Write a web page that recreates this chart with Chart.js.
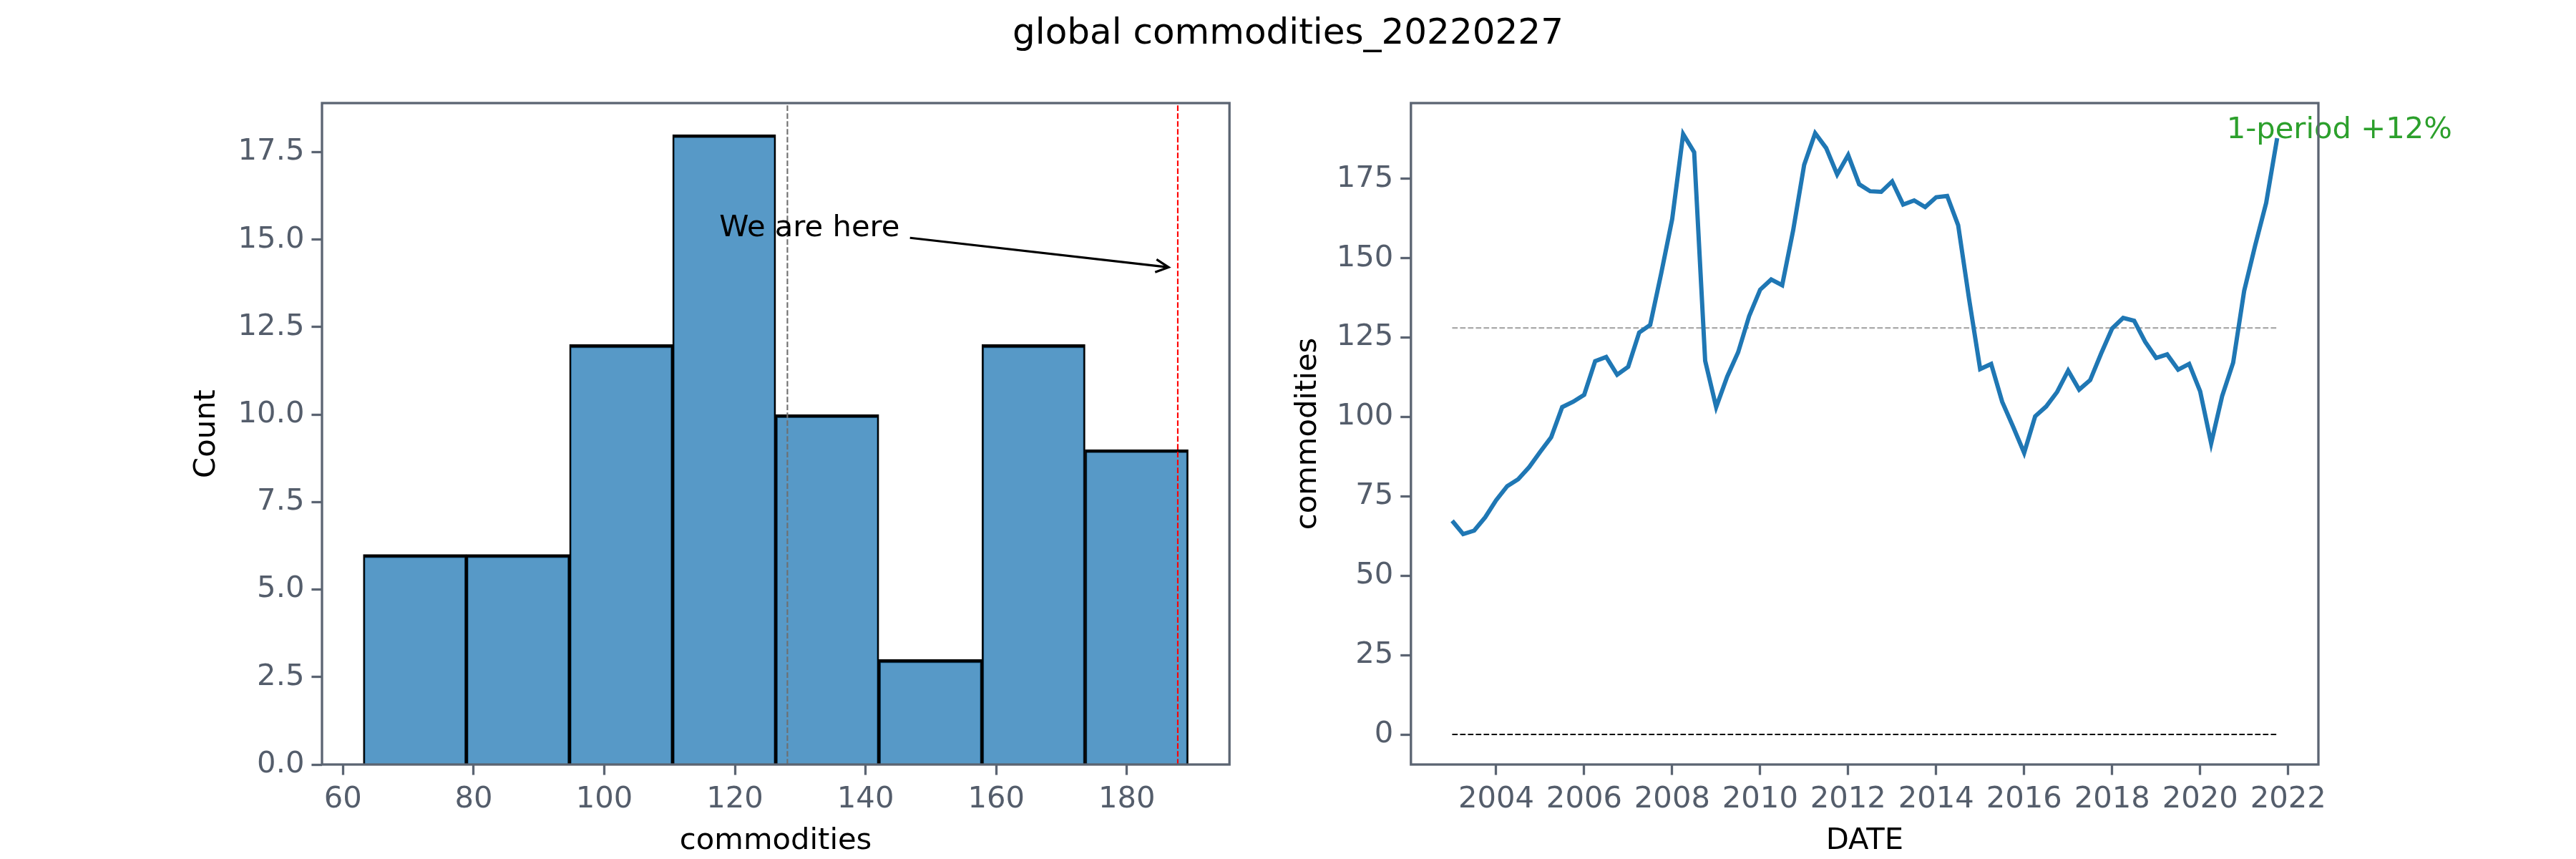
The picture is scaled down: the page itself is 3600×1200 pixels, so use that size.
<!DOCTYPE html>
<html>
<head>
<meta charset="utf-8">
<script src="https://cdn.jsdelivr.net/npm/chart.js@4.4.0/dist/chart.umd.min.js"></script>
<style>
  html, body { margin: 0; padding: 0; background: #fff; }
  #fig { position: relative; width: 3600px; height: 1200px; background: #fff; }
  #suptitle {
    position: absolute; left: 0; top: 0; width: 3600px;
    text-align: center; font-family: 'DejaVu Sans'; font-size: 50px;
    line-height: 89px; color: #000;
  }
  canvas { position: absolute; top: 0; }
  #histCanvas { left: 0; }
  #lineCanvas { left: 1800px; }
</style>
</head>
<body>
<div id="fig">
  <div id="suptitle">global commodities_20220227</div>
  <canvas id="histCanvas" width="1800" height="1200"></canvas>
  <canvas id="lineCanvas" width="1800" height="1200"></canvas>
</div>
<script>
// quarterly index, 2003Q1 .. 2021Q4
const firstYear = 2003;
const commodities = [
  67.3, 63.1, 64.2, 68.4, 73.8, 78.2, 80.4, 84.2, 89.0, 93.6,
  103.1, 104.8, 107.0, 117.6, 118.9, 113.3, 115.8, 126.6, 129.0, 145.2,
  162.3, 189.1, 183.4, 117.7, 103.1, 112.7, 120.4, 131.8, 140.1, 143.3,
  141.5, 158.8, 179.4, 189.4, 184.7, 176.4, 182.5, 173.3, 171.1, 170.9,
  174.2, 166.9, 168.2, 166.1, 169.2, 169.6, 160.4, 137.0, 115.1, 116.7,
  104.8, 96.9, 88.7, 100.2, 103.3, 107.9, 114.6, 108.6, 111.6, 120.0,
  127.9, 131.2, 130.3, 123.7, 118.6, 119.7, 114.9, 116.7, 108.1, 91.7,
  106.6, 117.1, 139.7, 154.0, 167.4, 187.8
];

// histogram counts per bin (8 equal bins between min and max)
const histCounts = [6, 6, 12, 18, 10, 3, 12, 9];

const histTicks = [60, 80, 100, 120, 140, 160, 180];
const countTicks = [0, 2.5, 5, 7.5, 10, 12.5, 15, 17.5];
const yearTicks = [2004, 2006, 2008, 2010, 2012, 2014, 2016, 2018, 2020, 2022];
const valueTicks = [0, 25, 50, 75, 100, 125, 150, 175];

// annotations (data units)
const arrowText = 'We are here';
const arrowTextAt = [117.6, 15.1];
const arrowTail = [146.8, 15.05];
const arrowHead = [186.4, 14.21];
const changeText = '1-period +12%';
const changeTextX = 2020.6;

const FONT = 'DejaVu Sans';
const FS = 41.7;
const tickGray = '#545d6b';
const spineGray = '#5b6472';
const blue = '#1f77b4';

Chart.defaults.font.family = FONT;
Chart.defaults.font.size = FS;
Chart.defaults.color = '#000';

const dates = commodities.map((v, i) => firstYear + i / 4);
const lo = Math.min(...commodities);
const hi = Math.max(...commodities);
const binWidth = (hi - lo) / histCounts.length;
const binCenters = histCounts.map((c, k) => lo + (k + 0.5) * binWidth);
const meanVal = commodities.reduce((s, v) => s + v, 0) / commodities.length;
const lastVal = commodities[commodities.length - 1];

function fixedTicks(values) {
  return function (axis) {
    axis.ticks = values.map(v => ({ value: v }));
  };
}

function axisStyle(extra) {
  return Object.assign({
    border: { display: false },
    grid: {
      display: true, drawOnChartArea: false, drawTicks: true, offset: false,
      tickLength: 14.6, tickWidth: 3.3, tickColor: spineGray
    },
    ticks: { color: tickGray, font: { size: FS }, autoSkip: false, maxRotation: 0, padding: 10 }
  }, extra);
}

const framePlugin = {
  id: 'frame',
  afterDraw(chart) {
    const { ctx, chartArea: a } = chart;
    ctx.save();
    ctx.strokeStyle = spineGray;
    ctx.lineWidth = 3.3;
    ctx.strokeRect(a.left, a.top, a.right - a.left, a.bottom - a.top);
    ctx.restore();
  }
};

const histExtras = {
  id: 'histExtras',
  afterDatasetsDraw(chart) {
    const { ctx, chartArea: a, scales: { x, y } } = chart;
    ctx.save();
    ctx.lineWidth = 2.1;
    ctx.setLineDash([7.7, 3.3]);
    [[meanVal, '#6f6f6f'], [lastVal, '#ff0000']].forEach(([v, c]) => {
      const px = x.getPixelForValue(v);
      ctx.strokeStyle = c;
      ctx.beginPath();
      ctx.moveTo(px, a.bottom);
      ctx.lineTo(px, a.top);
      ctx.stroke();
    });
    ctx.setLineDash([]);

    ctx.fillStyle = '#000';
    ctx.font = FS + 'px "' + FONT + '"';
    ctx.textBaseline = 'alphabetic';
    ctx.textAlign = 'left';
    ctx.fillText(arrowText, x.getPixelForValue(arrowTextAt[0]), y.getPixelForValue(arrowTextAt[1]));

    const x0 = x.getPixelForValue(arrowTail[0]), y0 = y.getPixelForValue(arrowTail[1]);
    const x1 = x.getPixelForValue(arrowHead[0]), y1 = y.getPixelForValue(arrowHead[1]);
    const len = Math.hypot(x1 - x0, y1 - y0);
    const dx = (x1 - x0) / len, dy = (y1 - y0) / len;
    const hl = 18, hw = 9;
    ctx.strokeStyle = '#000';
    ctx.lineWidth = 3.2;
    ctx.beginPath();
    ctx.moveTo(x0, y0);
    ctx.lineTo(x1, y1);
    ctx.moveTo(x1 - dx * hl - dy * hw, y1 - dy * hl + dx * hw);
    ctx.lineTo(x1, y1);
    ctx.lineTo(x1 - dx * hl + dy * hw, y1 - dy * hl - dx * hw);
    ctx.stroke();
    ctx.restore();
  }
};

const lineExtras = {
  id: 'lineExtras',
  afterDraw(chart) {
    const { ctx, scales: { x, y } } = chart;
    ctx.save();
    ctx.fillStyle = '#2ca02c';
    ctx.font = FS + 'px "' + FONT + '"';
    ctx.textBaseline = 'alphabetic';
    ctx.textAlign = 'left';
    ctx.fillText(changeText, x.getPixelForValue(changeTextX), y.getPixelForValue(lastVal));
    ctx.restore();
  }
};

// left: histogram
new Chart(document.getElementById('histCanvas'), {
  type: 'bar',
  data: {
    datasets: [{
      data: binCenters.map((c, k) => ({ x: c, y: histCounts[k] })),
      backgroundColor: 'rgba(31,119,180,0.75)',
      borderColor: '#000',
      borderWidth: { top: 4.5, left: 2.5, right: 2.5, bottom: 0 },
      borderSkipped: false,
      barPercentage: 1,
      categoryPercentage: 1
    }]
  },
  options: {
    responsive: false,
    animation: false,
    devicePixelRatio: 1,
    layout: { padding: { left: 0, top: 144, right: 1800 - 1718.2, bottom: 0 } },
    plugins: { legend: { display: false }, tooltip: { enabled: false }, title: { display: false } },
    scales: {
      x: axisStyle({
        type: 'linear',
        offset: false,
        min: lo - 0.05 * (hi - lo),
        max: hi + 0.05 * (hi - lo),
        afterBuildTicks: fixedTicks(histTicks),
        afterFit(s) { s.height = 132; },
        title: { display: true, text: 'commodities', color: '#000', font: { size: FS }, padding: { top: 0, bottom: 0 } }
      }),
      y: axisStyle({
        type: 'linear',
        min: 0,
        max: 18 * 1.05,
        afterBuildTicks: fixedTicks(countTicks),
        afterFit(s) { s.width = 450; },
        title: { display: true, text: 'Count', color: '#000', font: { size: FS }, padding: { top: 264, bottom: 0 } }
      })
    }
  },
  plugins: [histExtras, framePlugin]
});

// tick label formats
const histChart = Chart.getChart('histCanvas');
histChart.options.scales.y.ticks.callback = v => v.toFixed(1);
histChart.options.scales.x.ticks.callback = v => String(v);
histChart.update();

// right: time series
new Chart(document.getElementById('lineCanvas'), {
  type: 'line',
  data: {
    datasets: [
      {
        data: dates.map((d, i) => ({ x: d, y: commodities[i] })),
        borderColor: blue,
        borderWidth: 6,
        pointRadius: 0,
        tension: 0,
        fill: false
      },
      {
        data: [{ x: dates[0], y: meanVal }, { x: dates[dates.length - 1], y: meanVal }],
        borderColor: '#a9a9a9',
        borderWidth: 2.3,
        borderDash: [7.7, 3.3],
        pointRadius: 0,
        fill: false
      },
      {
        data: [{ x: dates[0], y: 0 }, { x: dates[dates.length - 1], y: 0 }],
        borderColor: '#000',
        borderWidth: 2.1,
        borderDash: [7.7, 3.3],
        pointRadius: 0,
        fill: false
      }
    ]
  },
  options: {
    responsive: false,
    animation: false,
    devicePixelRatio: 1,
    layout: { padding: { left: 0, top: 144, right: 360, bottom: 0 } },
    plugins: { legend: { display: false }, tooltip: { enabled: false }, title: { display: false } },
    scales: {
      x: axisStyle({
        type: 'linear',
        min: dates[0] - 0.05 * (dates[dates.length - 1] - dates[0]),
        max: dates[dates.length - 1] + 0.05 * (dates[dates.length - 1] - dates[0]),
        afterBuildTicks: fixedTicks(yearTicks),
        afterFit(s) { s.height = 132; },
        title: { display: true, text: 'DATE', color: '#000', font: { size: FS }, padding: { top: 0, bottom: 0 } }
      }),
      y: axisStyle({
        type: 'linear',
        min: -0.05 * hi,
        max: 1.05 * hi,
        afterBuildTicks: fixedTicks(valueTicks),
        afterFit(s) { s.width = 171.8; },
        title: { display: true, text: 'commodities', color: '#000', font: { size: FS }, padding: { top: 3, bottom: 0 } }
      })
    }
  },
  plugins: [lineExtras, framePlugin]
});

const lineChart = Chart.getChart('lineCanvas');
lineChart.options.scales.x.ticks.callback = v => String(v);
lineChart.options.scales.y.ticks.callback = v => String(v);
lineChart.update();
</script>
</body>
</html>
